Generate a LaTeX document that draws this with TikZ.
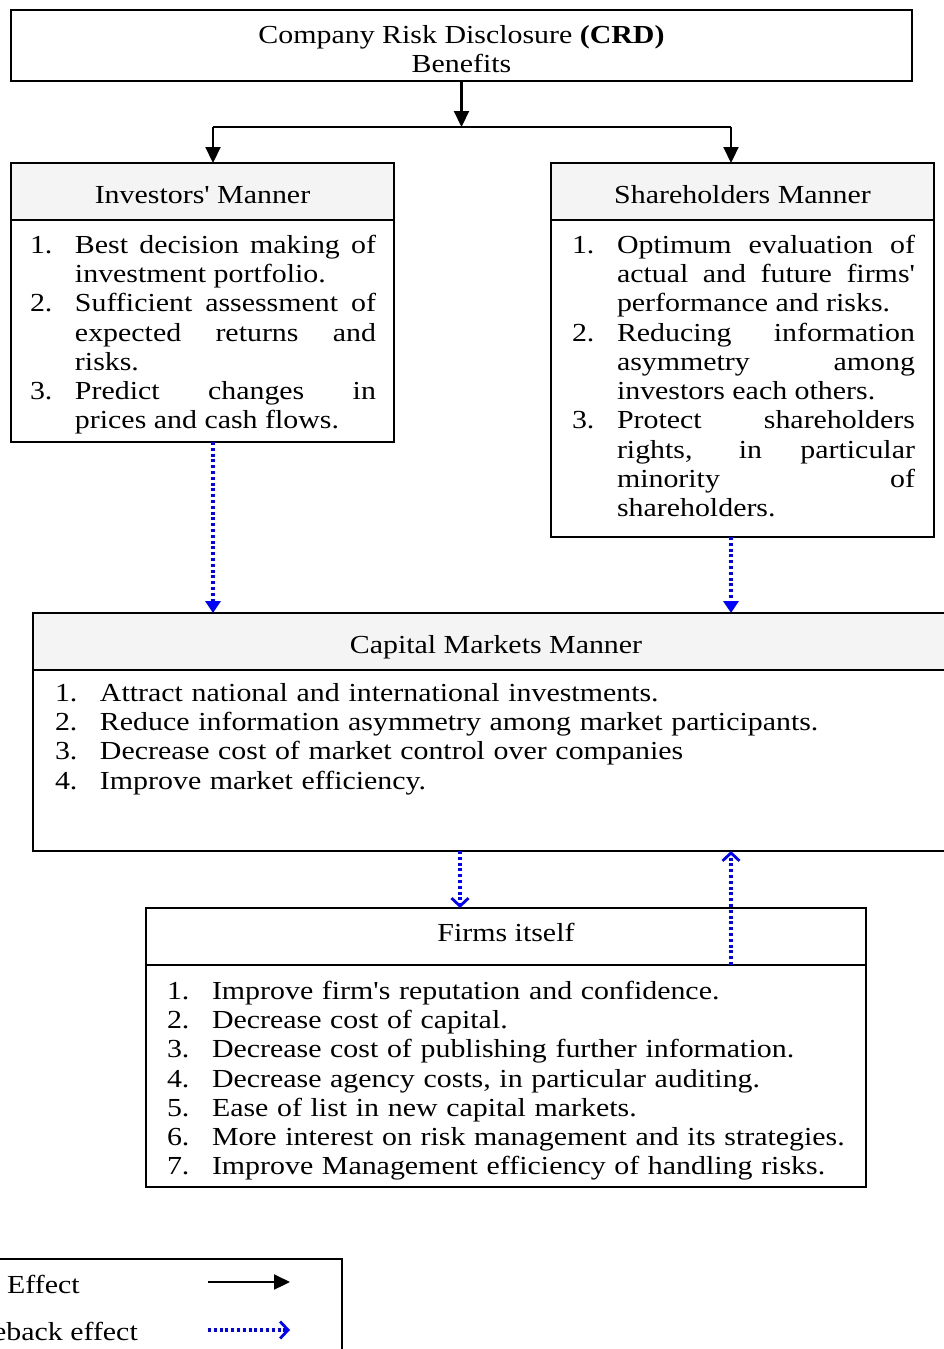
\documentclass[tikz,border=0pt]{standalone}
\usepackage{fontspec}
\setmainfont{Liberation Serif}[FakeStretch=1.15,Ligatures=TeXOff]
\usetikzlibrary{arrows.meta}
\definecolor{headfill}{HTML}{F4F4F4}
\definecolor{fbblue}{RGB}{0,0,255}
% text setup for the numbered lists
\newcommand\listsetup{\fontsize{26}{29.25}\selectfont\tolerance=10000 \hbadness=10000 \hyphenpenalty=10000 \emergencystretch=0pt }
% numbered item: label in a 45pt box, continuation lines hang under the text
\newcommand\itm[1]{\par\noindent\hangindent=45pt\hangafter=1 \rule{0pt}{22pt}\makebox[45pt][l]{#1.}\ignorespaces}
\begin{document}
\begin{tikzpicture}[x=1pt,y=-1pt,
  frame/.style={draw, line width=1.8pt, anchor=north west, inner sep=0pt, outer sep=0pt},
  head/.style={frame, fill=headfill, font=\listsetup, text height=24pt, text depth=1pt},
  plainhead/.style={frame, fill=white, font=\listsetup, text height=16pt, text depth=7pt},
  listtext/.style={anchor=north west, inner sep=0pt, outer sep=0pt, font=\listsetup},
  plain/.style={draw, line width=2.2pt},
  effect/.style={plain, -{Triangle[length=16pt,width=15pt]}},
  feedback/.style={draw=fbblue, line width=3.2pt, dash pattern=on 3pt off 2.8pt},
  fbtri/.style={feedback, -{Triangle[length=12pt,width=15pt]}},
  fbbarb/.style={feedback, -{Straight Barb[length=8pt,width=17pt,line width=2.8pt]}}
]
\useasboundingbox (0,0) rectangle (944,1349);
\clip (0,0) rectangle (944,1349);

% title box
\node[draw, line width=1.8pt, minimum width=901pt, minimum height=71pt, inner sep=0pt] (crd) at (461.5,45.5) {};
\node[align=center, inner sep=0pt, font=\fontsize{26}{29}\selectfont] (crdt) at (461.5,49.5)
  {Company Risk Disclosure \textbf{(CRD)}\\Benefits};

% investors
\node[head, minimum width=383pt, minimum height=57pt] (invh) at (11,163) {Investors' Manner};
\node[frame, minimum width=383pt, minimum height=222pt] (invb) at (11,220) {};
\node[listtext, text width=346pt, align=justify] (invt) at (30,224) {%
\itm{1}Best decision making of\linebreak investment portfolio.
\itm{2}Sufficient assessment of\linebreak expected returns and\linebreak risks.
\itm{3}Predict changes in\linebreak prices and cash flows.\par};

% shareholders
\node[head, minimum width=383pt, minimum height=57pt] (shh) at (551,163) {Shareholders Manner};
\node[frame, minimum width=383pt, minimum height=317pt] (shb) at (551,220) {};
\node[listtext, text width=343pt, align=justify] (sht) at (572,224) {%
\itm{1}Optimum evaluation of\linebreak actual and future firms'\linebreak performance and risks.
\itm{2}Reducing information\linebreak asymmetry among\linebreak investors each others.
\itm{3}Protect shareholders\linebreak rights, in particular\linebreak minority of\linebreak shareholders.\par};

% capital markets
\node[head, minimum width=926pt, minimum height=57pt] (caph) at (33,613) {Capital Markets Manner};
\node[frame, minimum width=926pt, minimum height=181pt] (capb) at (33,670) {};
\node[listtext, text width=850pt, align=left] (capt) at (55,672) {%
\itm{1}Attract national and international investments.
\itm{2}Reduce information asymmetry among market participants.
\itm{3}Decrease cost of market control over companies
\itm{4}Improve market efficiency.\par};

% firms
\node[plainhead, minimum width=720pt, minimum height=57pt] (firmh) at (146,908) {Firms itself};
\node[frame, minimum width=720pt, minimum height=222pt] (firmb) at (146,965) {};
\node[listtext, text width=690pt, align=left] (firmt) at (167,970) {%
\itm{1}Improve firm's reputation and confidence.
\itm{2}Decrease cost of capital.
\itm{3}Decrease cost of publishing further information.
\itm{4}Decrease agency costs, in particular auditing.
\itm{5}Ease of list in new capital markets.
\itm{6}More interest on risk management and its strategies.
\itm{7}Improve Management efficiency of handling risks.\par};

% connectors
\coordinate (fork) at (461.5,127);
\coordinate (forkL) at (213,127);
\coordinate (forkR) at (731,127);
\coordinate (xdown) at (460,0);
\draw[effect] (crd.south) -- (fork);
\draw[plain] (forkL) -- (forkR);
\draw[effect] (forkL) -- (forkL |- invh.north);
\draw[effect] (forkR) -- (forkR |- shh.north);
\draw[fbtri] (forkL |- invb.south) -- (forkL |- caph.north);
\draw[fbtri] (forkR |- shb.south) -- (forkR |- caph.north);
\draw[fbbarb] (capb.south -| xdown) -- (firmh.north -| xdown);
\draw[fbbarb] (firmh.south -| forkR) -- (capb.south -| forkR);

% legend
\node[frame, anchor=north east, minimum width=400pt, minimum height=150pt] (legend) at (342,1259) {};
\node[anchor=base west, inner sep=0pt, font=\listsetup] (leff) at (7,1293) {Effect};
\node[anchor=base east, inner sep=0pt, font=\listsetup] (lfb) at (138,1340) {Feeback effect};
\coordinate (e1) at (208,1282);
\coordinate (e2) at (290,1282);
\coordinate (f1) at (208,1330);
\coordinate (f2) at (290,1330);
\draw[effect] (e1) -- (e2);
\draw[fbbarb] (f1) -- (f2);
\end{tikzpicture}
\end{document}
